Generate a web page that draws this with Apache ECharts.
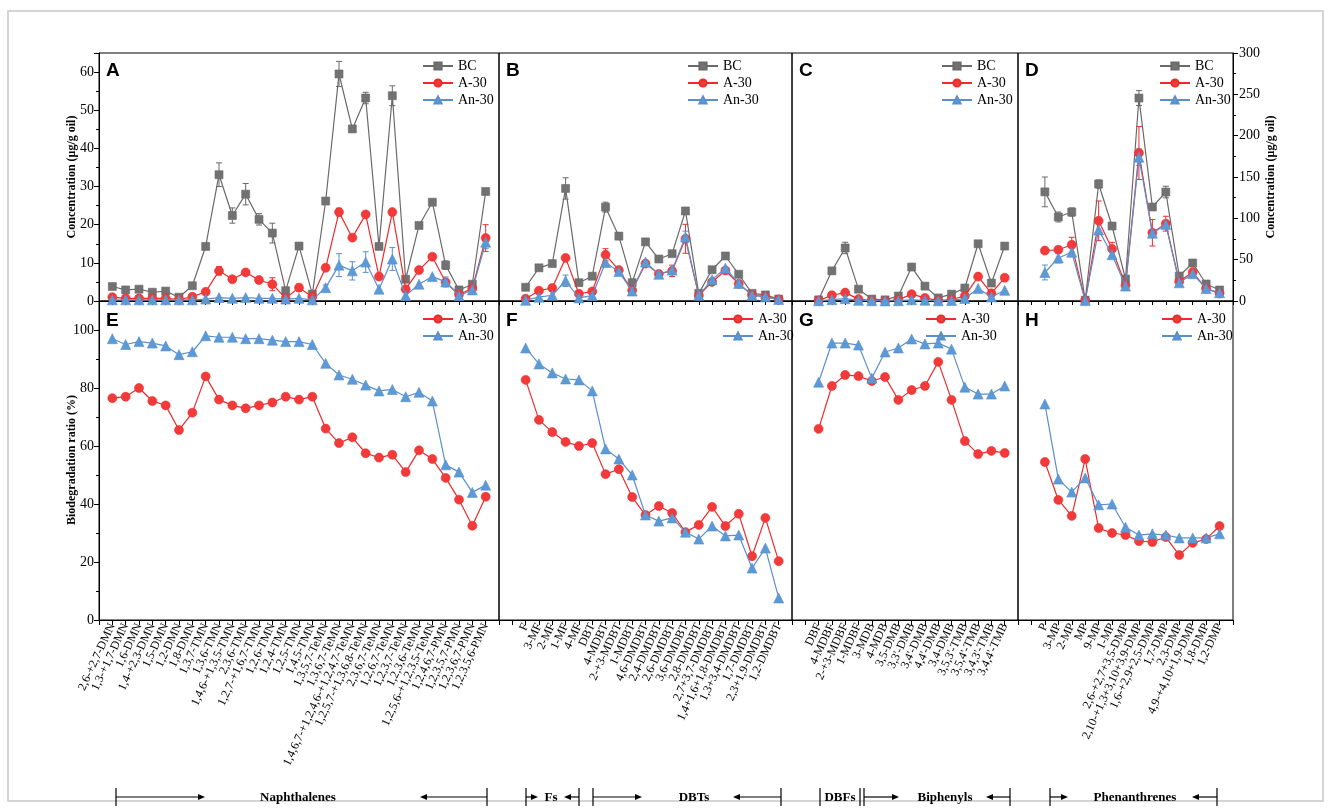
<!DOCTYPE html>
<html><head><meta charset="utf-8">
<script src="https://cdn.jsdelivr.net/npm/echarts@6/dist/echarts.min.js"></script>
<style>html,body{margin:0;padding:0;background:#fff}#c{width:1331px;height:809px}</style>
</head><body><div id="c"></div><script>
// ---------- categories ----------
const naphCats = ['2,6-+2,7-DMN','1,3-+1,7-DMN','1,6-DMN','1,4-+2,3-DMN','1,5-DMN','1,2-DMN','1,8-DMN','1,3,7-TMN','1,3,6-TMN','1,4,6-+1,3,5-TMN','2,3,6-TMN','1,2,7-+1,6,7-TMN','1,2,6-TMN','1,2,4-TMN','1,2,5-TMN','1,4,5-TMN','1,3,5,7-TeMN','1,3,6,7-TeMN','1,4,6,7-+1,2,4,6-+1,2,4,7-TeMN','1,2,5,7-+1,3,6,8-TeMN','2,3,6,7-TeMN','1,2,6,7-TeMN','1,2,3,7-TeMN','1,2,3,6-TeMN','1,2,5,6-+1,2,3,5-TeMN','1,2,4,6,7-PMN','1,2,3,5,7-PMN','1,2,3,6,7-PMN','1,2,3,5,6-PMN'];
const dbtCats = ['F','3-MF','2-MF','1-MF','4-MF','DBT','4-MDBT','2-+3-MDBT','1-MDBT','4,6-DMDBT','2,4-DMDBT','2,6-DMDBT','3,6-DMDBT','2,8-DMDBT','2,7+3,7-DMDBT','1,4+1,6+1,8-DMDBT','1,3+3,4-DMDBT','1,7-DMDBT','2,3+1,9-DMDBT','1,2-DMDBT'];
const bipCats = ['DBF','4-MDBF','2-+3-MDBF','1-MDBF','3-MDB','4-MDB','3,5-DMB',"3,3'-DMB","3,4'-DMB","4,4'-DMB",'3,4-DMB',"3,5,3'-TMB","3,5,4'-TMB","3,4,3'-TMB","3,4,4'-TMB"];
const phenCats = ['P','3-MP','2-MP','MP','9-MP','1-MP','2,6-+2,7+3,5-DMP','2,10-+1,3+3,10+3,9-DMP','1,6-+2,9+2,5-DMP','1,7-DMP','2,3-DMP','4,9-+4,10+1,9-DMP','1,8-DMP','1,2-DMP'];

// ---------- concentrations (µg/g oil) ----------
const naphBC   = [3.8,2.9,3.1,2.3,2.6,1.0,4.0,14.3,33.1,22.4,28.0,21.4,17.8,2.7,14.4,1.8,26.2,59.5,45.1,53.2,14.3,53.8,5.7,19.8,25.9,9.4,2.9,4.4,28.7];
const naphA30  = [1.0,0.7,0.7,0.7,0.7,0.4,1.1,2.4,7.9,5.7,7.5,5.5,4.4,0.7,3.5,1.1,8.7,23.3,16.6,22.7,6.4,23.3,3.1,8.1,11.6,4.9,1.7,3.3,16.5];
const naphAn30 = [0.3,0.3,0.3,0.3,0.3,0.3,0.3,0.5,0.9,0.7,0.9,0.7,0.7,0.5,0.7,0.3,3.5,9.4,7.9,10.2,3.1,11.0,1.4,4.4,6.4,5.0,1.4,2.9,15.4];
const dbtBC    = [3.6,8.7,9.8,29.5,4.8,6.5,24.6,17.0,4.8,15.5,11.0,12.4,23.6,2.0,8.2,11.8,7.0,2.0,1.6,0.5];
const dbtA30   = [0.6,2.7,3.4,11.3,1.9,2.5,12.1,8.1,2.8,9.8,7.1,7.9,16.3,1.4,5.0,8.0,4.5,1.6,1.1,0.4];
const dbtAn30  = [0.2,1.0,1.5,5.3,0.8,1.4,10.1,7.7,2.6,10.2,7.0,8.1,16.8,1.5,5.6,8.6,4.6,1.5,1.1,0.4];
const bipBC    = [0.3,7.9,13.9,3.1,0.5,0.3,1.3,8.9,3.9,0.8,1.8,3.4,15.0,4.7,14.4];
const bipA30   = [0.1,1.5,2.2,0.5,0.1,0.05,0.3,1.8,0.8,0.1,0.4,1.3,6.4,2.0,6.1];
const bipAn30  = [0.05,0.35,0.6,0.17,0.08,0.02,0.08,0.3,0.2,0.04,0.13,0.67,3.3,1.05,2.8];
const phenBC   = [132,101.6,107.6,1,141.5,90.7,26.6,245.5,113.7,131.8,30.2,46,20.6,13.3];
const phenA30  = [61,62,68,0.5,97,63,19,179,82.5,93.5,23.5,35,14.8,9.2];
const phenAn30 = [34.5,52,59,0.5,86,56,18,174,82,92.5,22,33,15,10];

// ---------- error bars (index: ± value) ----------
const errNaphBC   = {8:3.1,9:2,10:2.8,11:1.5,12:2.6,14:0.8,17:3.3,19:1.5,21:2.6,25:1.1};
const errNaphA30  = {8:1.1,12:1.7,14:0.9,17:1,28:3.5};
const errNaphAn30 = {16:0.7,17:3,18:2.4,19:2.7,21:3,25:1.3,28:1.7};
const errDbtBC    = {3:2.8,6:1.3,7:0.9,12:0.8};
const errDbtA30   = {6:1.6,11:1.5,12:3.8};
const errDbtAn30  = {3:1.5,12:1.5};
const errBipBC    = {2:1.5,12:0.4};
const errBipA30   = {};
const errBipAn30  = {};
const errPhenBC   = {0:18,1:6,2:5,4:5,7:9,9:7};
const errPhenA30  = {2:9,4:24,5:8,7:32,8:16,9:9};
const errPhenAn30 = {0:9,1:6,7:10};

// ---------- biodegradation ratio (%) ----------
const naphDegA  = [76.5,77,80,75.5,74,65.5,71.5,84,76,74,73,74,75,77,76,77,66,61,63,57.5,56,57,51,58.5,55.5,49,41.5,32.5,42.5];
const naphDegAn = [97,95,96,95.5,94.5,91.5,92.5,98,97.5,97.5,97,97,96.5,96,96,95,88.5,84.5,83,81,79,79.5,77,78.5,75.5,53.5,51,44,46.5];
const dbtDegA   = [82.8,69,64.8,61.4,60,61,50.3,52,42.4,36.2,39.3,36.9,30.3,32.8,39,32.4,36.6,22,35.2,20.3];
const dbtDegAn  = [93.8,88.3,85.2,83.1,82.8,79,59,55.5,50,36.2,34.1,35.2,30.3,27.9,32.4,29,29.3,17.9,24.8,7.6];
const bipDegA   = [65.9,80.7,84.5,84.1,82.4,83.8,75.9,79.3,80.7,89,75.9,61.7,57.2,58.3,57.6];
const bipDegAn  = [82,95.5,95.5,94.8,83.4,92.4,93.8,96.9,95.2,95.5,93.4,80.3,77.9,77.9,80.7];
const phenDegA  = [54.5,41.4,35.9,55.5,31.7,30,29.3,27.2,26.9,28.6,22.4,26.6,27.9,32.4];
const phenDegAn = [74.5,48.6,44.1,49,39.7,40,32,29.3,29.7,29.3,28.3,28.3,28.3,29.7];

const seriesNames = ['BC','A-30','An-30'];
const groupNames = ['Naphthalenes','Fs','DBTs','DBFs','Biphenyls','Phenanthrenes'];

// ---------- layout ----------
const SERIF = 'Liberation Serif';
const panels = [
  {cats:naphCats, off:1, n:30, left:99,   width:400, top:[naphBC,naphA30,naphAn30], err:[errNaphBC,errNaphA30,errNaphAn30], deg:[naphDegA,naphDegAn], letters:['A','E'], legTop:417, legBot:417},
  {cats:dbtCats,  off:2, n:22, left:499,  width:293, top:[dbtBC,dbtA30,dbtAn30],   err:[errDbtBC,errDbtA30,errDbtAn30],   deg:[dbtDegA,dbtDegAn],   letters:['B','F'], legTop:682, legBot:717},
  {cats:bipCats,  off:2, n:17, left:792,  width:226, top:[bipBC,bipA30,bipAn30],   err:[errBipBC,errBipA30,errBipAn30],   deg:[bipDegA,bipDegAn],   letters:['C','G'], legTop:936, legBot:920},
  {cats:phenCats, off:2, n:16, left:1018, width:215, top:[phenBC,phenA30,phenAn30],err:[errPhenBC,errPhenA30,errPhenAn30],deg:[phenDegA,phenDegAn], letters:['D','H'], legTop:1154, legBot:1156}
];
const TOP_Y = 53, TOP_H = 248, BOT_Y = 301, BOT_H = 319;
const styles = [
  {symbol:'rect', size:8, line:'#6a6a6a', fill:'#727272'},
  {symbol:'circle', size:9, line:'#ee2b2b', fill:'#f23a3a'},
  {symbol:'triangle', size:10, line:'#5b8fcb', fill:'#5b9ad6'}
];

const grids = [], xAxes = [], yAxes = [], series = [], legends = [], graphics = [];

function errRender(params, api) {
  const x = api.value(0), lo = api.value(1), hi = api.value(2);
  const p1 = api.coord([x, hi]), p2 = api.coord([x, lo]);
  const w = 3, st = {stroke: api.visual('color'), lineWidth: 1};
  return {type:'group', children:[
    {type:'line', shape:{x1:p1[0],y1:p1[1],x2:p2[0],y2:p2[1]}, style:st},
    {type:'line', shape:{x1:p1[0]-w,y1:p1[1],x2:p1[0]+w,y2:p1[1]}, style:st},
    {type:'line', shape:{x1:p2[0]-w,y1:p2[1],x2:p2[0]+w,y2:p2[1]}, style:st}
  ]};
}

function addLine(gi, name, vals, off, st, z) {
  series.push({
    type:'line', name, xAxisIndex:gi, yAxisIndex:gi, animation:false,
    data: vals.map((v,i)=>[i+off, v]),
    symbol: st.symbol, symbolSize: st.size, showAllSymbol:true,
    lineStyle:{color:st.line, width:1.2},
    itemStyle:{color:st.fill, borderColor:st.line, borderWidth:0.6},
    z: z
  });
}

const axisLbl = {fontFamily:SERIF, fontSize:14, color:'#000'};
const aLine = {show:true, onZero:false, lineStyle:{color:'#000'}};

panels.forEach((p, pi) => {
  // top grid
  const gT = grids.length;
  grids.push({left:p.left, top:TOP_Y, width:p.width, height:TOP_H, show:true, borderColor:'#000', borderWidth:1, containLabel:false});
  xAxes.push({type:'value', gridIndex:gT, min:0, max:p.n, interval:1,
    axisLine:aLine, axisTick:{show:true, length:4, lineStyle:{color:'#000'}},
    axisLabel:{show:false}, splitLine:{show:false}});
  const isLeft = pi === 0, isRight = pi === 3;
  if (isRight) {
    yAxes.push({type:'value', gridIndex:gT, position:'right', min:0, max:300, interval:50,
      axisLine:aLine, axisTick:{show:true, length:5, lineStyle:{color:'#000'}},
      minorTick:{show:true, splitNumber:2, length:3, lineStyle:{color:'#000'}},
      axisLabel:Object.assign({margin:6}, axisLbl), splitLine:{show:false}});
  } else {
    yAxes.push({type:'value', gridIndex:gT, min:0, max:65, interval:10, show:isLeft,
      axisLine:aLine, axisTick:{show:true, length:5, lineStyle:{color:'#000'}},
      minorTick:{show:true, splitNumber:2, length:3, lineStyle:{color:'#000'}},
      axisLabel:Object.assign({margin:5, showMaxLabel:false, formatter:(v)=> v % 10 === 0 ? String(v) : ''}, axisLbl), splitLine:{show:false}});
  }
  p.top.forEach((vals, si) => {
    const errs = p.err[si];
    series.push({type:'custom', name:'err', xAxisIndex:gT, yAxisIndex:gT, animation:false, renderItem:errRender,
      itemStyle:{color:styles[si].line}, z:2,
      data:Object.keys(errs).map(k => [+k + p.off, vals[+k] - errs[k], vals[+k] + errs[k]])});
  });
  p.top.forEach((vals, si) => addLine(gT, seriesNames[si], vals, p.off, styles[si], 3 + si));
  legends.push({orient:'vertical', left:p.legTop, top:54, itemWidth:30, itemHeight:9, itemGap:3, selectedMode:false,
    data:seriesNames, textStyle:{fontFamily:SERIF, fontSize:14, color:'#000'}});

  // bottom grid
  const gB = grids.length;
  grids.push({left:p.left, top:BOT_Y, width:p.width, height:BOT_H, show:true, borderColor:'#000', borderWidth:1, containLabel:false});
  xAxes.push({type:'value', gridIndex:gB, min:0, max:p.n, interval:1,
    axisLine:aLine, axisTick:{show:true, length:5, lineStyle:{color:'#000'}},
    axisLabel:{show:true, rotate:65, margin:4, fontFamily:SERIF, fontSize:12, color:'#000',
      formatter:(v)=> { const k = Math.round(v) - p.off; return (k >= 0 && k < p.cats.length) ? p.cats[k] : ''; }},
    splitLine:{show:false}});
  yAxes.push({type:'value', gridIndex:gB, min:0, max:110, interval:20, show:isLeft,
    axisLine:aLine, axisTick:{show:true, length:5, lineStyle:{color:'#000'}},
    minorTick:{show:true, splitNumber:2, length:3, lineStyle:{color:'#000'}},
    axisLabel:Object.assign({margin:5, showMaxLabel:false, formatter:(v)=> v % 20 === 0 ? String(v) : ''}, axisLbl), splitLine:{show:false}});
  p.deg.forEach((vals, si) => addLine(gB, seriesNames[si+1], vals, p.off, styles[si+1], 3 + si));
  legends.push({orient:'vertical', left:p.legBot, top:307, itemWidth:30, itemHeight:9, itemGap:3, selectedMode:false,
    data:seriesNames.slice(1), textStyle:{fontFamily:SERIF, fontSize:14, color:'#000'}});

  // panel letters
  graphics.push({type:'text', left:p.left + 7, top:61, style:{text:p.letters[0], font:'bold 19px Liberation Sans', fill:'#000'}});
  graphics.push({type:'text', left:p.left + 7, top:311, style:{text:p.letters[1], font:'bold 19px Liberation Sans', fill:'#000'}});
});

// axis titles
graphics.push({type:'text', x:72, y:177, rotation:Math.PI/2, style:{text:'Concentration (μg/g oil)', font:'bold 12px Liberation Serif', fill:'#000', align:'center', verticalAlign:'middle'}});
graphics.push({type:'text', x:72, y:460, rotation:Math.PI/2, style:{text:'Biodegradation ratio (%)', font:'bold 12px Liberation Serif', fill:'#000', align:'center', verticalAlign:'middle'}});
graphics.push({type:'text', x:1271, y:177, rotation:Math.PI/2, style:{text:'Concentration (μg/g oil)', font:'bold 12px Liberation Serif', fill:'#000', align:'center', verticalAlign:'middle'}});

// outer frame
graphics.push({type:'rect', shape:{x:8, y:11, width:1315, height:790}, style:{fill:null, stroke:'#c8c8c8', lineWidth:1.5}, z:-1});

// compound-group brackets at the bottom
const brackets = [
  {x1:116, a1:205, tx:298, a2:420, x2:487},
  {x1:526, a1:538, tx:551, a2:564, x2:579},
  {x1:593, a1:642, tx:694, a2:733, x2:781},
  {x1:820, a1:null, tx:840, a2:null, x2:860},
  {x1:864, a1:899, tx:945, a2:986, x2:1010},
  {x1:1050, a1:1068, tx:1135, a2:1192, x2:1217}
];
const BY = 797;
brackets.forEach((b, i) => {
  const ls = {stroke:'#000', lineWidth:1.2};
  graphics.push({type:'line', shape:{x1:b.x1, y1:BY-9, x2:b.x1, y2:BY+9}, style:ls});
  graphics.push({type:'line', shape:{x1:b.x2, y1:BY-9, x2:b.x2, y2:BY+9}, style:ls});
  if (b.a1 !== null) {
    graphics.push({type:'line', shape:{x1:b.x1, y1:BY, x2:b.a1-5, y2:BY}, style:ls});
    graphics.push({type:'polygon', shape:{points:[[b.a1,BY],[b.a1-7,BY-3],[b.a1-7,BY+3]]}, style:{fill:'#000'}});
    graphics.push({type:'line', shape:{x1:b.a2+5, y1:BY, x2:b.x2, y2:BY}, style:ls});
    graphics.push({type:'polygon', shape:{points:[[b.a2,BY],[b.a2+7,BY-3],[b.a2+7,BY+3]]}, style:{fill:'#000'}});
  }
  graphics.push({type:'text', x:b.tx, y:BY+1, style:{text:groupNames[i], font:'bold 13px Liberation Serif', fill:'#000', align:'center', verticalAlign:'middle'}});
});

const chart = echarts.init(document.getElementById('c'), null, {renderer:'canvas'});
chart.setOption({
  animation:false,
  backgroundColor:'#fff',
  grid:grids, xAxis:xAxes, yAxis:yAxes, series:series, legend:legends, graphic:graphics
});
</script></body></html>
